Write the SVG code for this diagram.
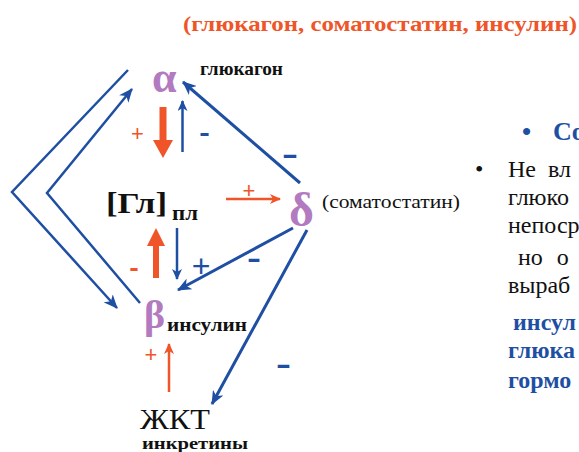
<svg xmlns="http://www.w3.org/2000/svg" width="579" height="452" viewBox="0 0 579 452">
<defs>
<style>
.b{font-weight:bold}
.greek{font-weight:bold;fill:#B37BBF}
.blk{fill:#111}
.or{fill:#EF5528}
.bl{fill:#1E4FA3}
.ln{fill:none;stroke:#1E4FA3;stroke-width:3}
.ln2{fill:none;stroke:#1E4FA3;stroke-width:2.5}
.lo{fill:none;stroke:#EF5528;stroke-width:2.5}
</style>
<marker id="bh" markerUnits="userSpaceOnUse" viewBox="0 0 14 12" markerWidth="14" markerHeight="12" refX="13" refY="6" orient="auto"><path d="M0,0 L14,6 L0,12 L4,6 z" fill="#1E4FA3"/></marker>
<marker id="bs" markerUnits="userSpaceOnUse" viewBox="0 0 11 10" markerWidth="11" markerHeight="10" refX="10" refY="5" orient="auto"><path d="M0,0 L11,5 L0,10 L3,5 z" fill="#1E4FA3"/></marker>
<marker id="os" markerUnits="userSpaceOnUse" viewBox="0 0 11 10" markerWidth="11" markerHeight="10" refX="10" refY="5" orient="auto"><path d="M0,0 L11,5 L0,10 L3,5 z" fill="#EF5528"/></marker>
</defs>

<text font-family="Liberation Serif, DejaVu Serif, serif" class="b or" x="183" y="31" font-size="20" textLength="394" lengthAdjust="spacingAndGlyphs">(глюкагон, соматостатин, инсулин)</text>

<g id="connectors">
<polyline class="ln2" points="128,70 12,192 117,308" marker-end="url(#bh)"/>
<polyline class="ln2" points="140,303 47,193 132,89" marker-end="url(#bh)"/>
<polygon points="159.5,107 166.5,107 166.5,140 173,140 163,158 153,140 159.5,140" fill="#EF5528"/>
<line class="ln2" x1="182.5" y1="152" x2="182.5" y2="101" marker-end="url(#bs)"/>
<polygon points="153,278 159,278 159,246 165,246 156,228 147,246 153,246" fill="#EF5528"/>
<line class="ln2" x1="177" y1="228" x2="177" y2="279" marker-end="url(#bs)"/>
<line class="lo" x1="226" y1="199" x2="280" y2="199" marker-end="url(#os)"/>
<line class="ln" x1="300" y1="183" x2="183" y2="82" marker-end="url(#bh)"/>
<line class="ln" x1="293" y1="228" x2="178" y2="290" marker-end="url(#bh)"/>
<line class="ln" x1="307" y1="230" x2="212" y2="404" marker-end="url(#bh)"/>
<line class="lo" x1="169" y1="392" x2="169" y2="344" marker-end="url(#os)"/>
</g>

<g id="signs" font-family="Liberation Sans, DejaVu Sans, sans-serif">
<text class="or" x="137.5" y="140.5" font-size="22" text-anchor="middle">+</text>
<text class="b bl" x="200" y="143" font-size="30" textLength="9" lengthAdjust="spacingAndGlyphs">–</text>
<text class="b bl" x="283" y="165" font-size="34" textLength="14" lengthAdjust="spacingAndGlyphs">–</text>
<text class="or" x="249" y="198" font-size="22" text-anchor="middle">+</text>
<text class="b or" x="130" y="278" font-size="30" textLength="8" lengthAdjust="spacingAndGlyphs">–</text>
<text class="bl" x="201" y="276.5" font-size="32" text-anchor="middle">+</text>
<text class="b bl" x="248" y="269" font-size="32" textLength="12" lengthAdjust="spacingAndGlyphs">–</text>
<text class="b bl" x="277" y="375" font-size="32" textLength="13" lengthAdjust="spacingAndGlyphs">–</text>
<text class="or" x="151" y="362" font-size="22" text-anchor="middle">+</text>
</g>

<g id="alpha" font-family="Liberation Serif, DejaVu Serif, serif">
<text class="greek" x="152" y="92" font-size="44">α</text>
<text class="b blk" x="200" y="75" font-size="19" textLength="83" lengthAdjust="spacingAndGlyphs">глюкагон</text>
</g>

<g id="glucose" font-family="Liberation Serif, DejaVu Serif, serif">
<text class="b blk" x="106" y="213" font-size="30" textLength="61" lengthAdjust="spacingAndGlyphs">[Гл]</text>
<text class="b blk" x="172" y="220" font-size="20" textLength="26" lengthAdjust="spacingAndGlyphs">пл</text>
</g>

<g id="delta" font-family="Liberation Serif, DejaVu Serif, serif">
<text class="greek" x="289" y="226" font-size="48">δ</text>
<text class="blk" x="322" y="208" font-size="18" textLength="138" lengthAdjust="spacingAndGlyphs">(соматостатин)</text>
</g>

<g id="beta" font-family="Liberation Serif, DejaVu Serif, serif">
<text class="greek" x="144" y="328" font-size="40">β</text>
<text class="b blk" x="167" y="331" font-size="19" textLength="80" lengthAdjust="spacingAndGlyphs">инсулин</text>
</g>

<g id="gut" font-family="Liberation Serif, DejaVu Serif, serif">
<text class="blk" x="140" y="429" font-size="29" textLength="70" lengthAdjust="spacingAndGlyphs">ЖКТ</text>
<text class="b blk" x="142" y="449" font-size="17" textLength="106" lengthAdjust="spacingAndGlyphs">инкретины</text>
</g>

<g id="side-text" font-family="Liberation Serif, DejaVu Serif, serif">
<text class="b bl" x="522" y="140" font-size="26">•</text>
<text class="b bl" x="553" y="140" font-size="26">Со</text>
<text class="blk" x="475" y="177" font-size="24">•</text>
<text class="blk" x="508" y="177" font-size="24" word-spacing="6">Не вл</text>
<text class="blk" x="508" y="205" font-size="24">глюко</text>
<text class="blk" x="508" y="233" font-size="24">непоср</text>
<text class="blk" x="518" y="265" font-size="24" word-spacing="8">но о</text>
<text class="blk" x="508" y="293" font-size="24">выраб</text>
<text class="b bl" x="513" y="330" font-size="24">инсул</text>
<text class="b bl" x="508" y="358" font-size="24">глюка</text>
<text class="b bl" x="508" y="388" font-size="24">гормо</text>
</g>
</svg>
